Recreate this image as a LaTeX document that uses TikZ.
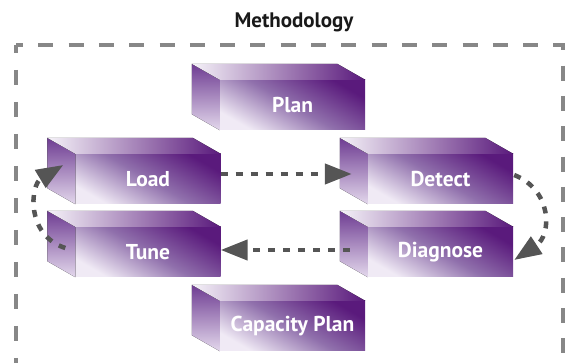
\documentclass[tikz,border=0pt]{standalone}
\usepackage{fontspec}
\setmainfont{PT Sans}
\usetikzlibrary{arrows.meta,calc}
\definecolor{pdark}{HTML}{5A1A7C}
\definecolor{pmid}{HTML}{9070AC}
\definecolor{plight}{HTML}{F0EAF5}
\definecolor{toplight}{HTML}{F5F2F8}
\definecolor{sidetop}{HTML}{6E3C92}
\definecolor{sidebot}{HTML}{E3D8EC}
\definecolor{arrowgray}{HTML}{555555}
\definecolor{framegray}{HTML}{878787}
\tikzset{
  frontface/.style={minimum width=145pt, minimum height=50pt, inner sep=0pt,
    font=\bfseries\fontsize{21.5}{24}\selectfont, text=white,
    bottom color=plight, top color=pdark, middle color=pmid, shading angle=-30},
  sideface/.style={bottom color=sidebot, top color=sidetop},
  topface/.style={left color=toplight, right color=pdark},
  conn/.style={draw=arrowgray, line width=4.5pt, dash pattern=on 7pt off 8pt,
    -{Triangle[length=27pt,width=20pt]}},
  framestyle/.style={draw=framegray, line width=4.5pt},
  titlestyle/.style={font=\bfseries\fontsize{21}{24}\selectfont, text=black!90},
}
\newcommand{\boxsides}[1]{%
  \fill[sideface] (#1.north west) -- ++(-28,-16) -- ([shift={(-28,-16)}]#1.south west) -- (#1.south west) -- cycle;
  \fill[topface] (#1.north west) -- ++(-28,-16) -- ([shift={(-28,-16)}]#1.north east) -- (#1.north east) -- cycle;
}
\begin{document}
\begin{tikzpicture}[x=1pt,y=-1pt]
\useasboundingbox (0,0) rectangle (566,363);
% frame
\draw[framestyle, dash pattern=on 15pt off 15.3pt, dash phase=8pt] (16,45) -- (563,45) -- (563,380);
\draw[framestyle, dash pattern=on 15pt off 17pt, dash phase=7pt] (16,45) -- (16,380);
\node[titlestyle] (title) at (294,22) {Methodology};
% boxes
\node[frontface] (plan) at (292.5,105) {Plan};
\node[frontface] (load) at (148,179) {Load};
\node[frontface] (detect) at (440.5,179) {Detect};
\node[frontface] (tune) at (148,252) {Tune};
\node[frontface] (diagnose) at (440.5,252) {Diagnose};
\node[frontface] (capacity) at (292.5,326) {Capacity Plan};
\boxsides{plan}
\boxsides{load}
\boxsides{detect}
\boxsides{tune}
\boxsides{diagnose}
\boxsides{capacity}
% connectors
\draw[conn] ([shift={(0,-5)}]load.east) -- ([shift={(-16,-5)}]detect.west);
\draw[conn] ([shift={(-18,-2)}]diagnose.west) -- ([shift={(0,-2)}]tune.east);
\draw[conn] ([shift={(1,-4)}]detect.east) .. controls +(38,15) and +(38,-25) .. ([shift={(1,8)}]diagnose.east);
\draw[conn] ([shift={(-10,-4)}]tune.west) .. controls +(-40,-13) and +(-33,20) .. ([shift={(-12,-14)}]load.west);
\end{tikzpicture}
\end{document}
